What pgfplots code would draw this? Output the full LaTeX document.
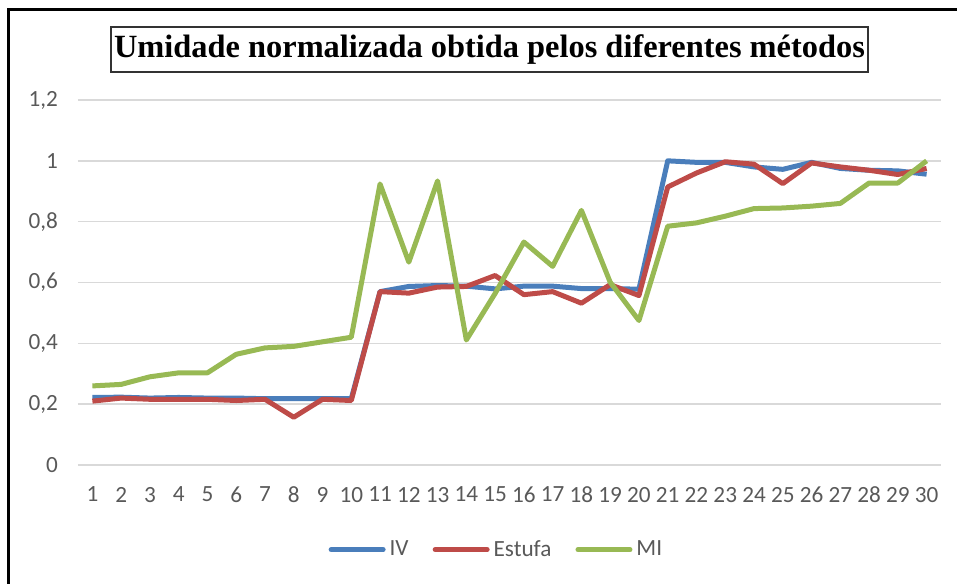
\documentclass[border=0pt]{standalone}
\usepackage{pgfplots}
\pgfplotsset{compat=1.18}
\usepackage{fontspec}
\setmainfont{Carlito}
\newfontfamily\titlefont{Liberation Serif}
\definecolor{ivc}{HTML}{4A7EBB}
\definecolor{esc}{HTML}{BE4B48}
\definecolor{mic}{HTML}{98B954}
\definecolor{txt}{HTML}{595959}
\definecolor{grd}{HTML}{D9D9D9}
\begin{document}
\begin{tikzpicture}[x=1pt,y=1pt]
\useasboundingbox (-39,-59) rectangle (439.5,232.5);
\draw[line width=1.5pt] (-34.5,-60) -- (-34.5,227.5) -- (440,227.5);
\begin{axis}[
  at={(0,0)}, anchor=south west, scale only axis,
  width=431.5pt, height=182.5pt,
  xmin=0.5, xmax=30.5, ymin=0, ymax=1.2,
  axis line style={draw=none},
  xtick={1,...,30},
  ytick={0,0.2,0.4,0.6,0.8,1,1.2},
  yticklabels={0,{0,2},{0,4},{0,6},{0,8},1,{1,2}},
  ymajorgrids,
  major grid style={grd, line width=0.75pt},
  major tick length=0pt,
  tick style={draw=none},
  /pgf/number format/assume math mode=true,
  ticklabel style={font=\fontsize{11.6}{14}\selectfont, text=txt},
  yticklabel style={xshift=-6.5pt},
  xticklabel style={yshift=-7.5pt},
  legend columns=3,
  legend style={draw=none, fill=none, at={(0.486,-0.232)}, anchor=center,
    font=\fontsize{11.6}{14}\selectfont, text=txt,
    /tikz/every even column/.append style={column sep=10pt}},
  legend image code/.code={\draw[#1, line cap=round] (0pt,0pt) -- (26pt,0pt);},
  every axis plot/.append style={line width=2.5pt, line join=round, no markers},
]
\addplot[ivc] coordinates {
(1,0.222)(2,0.223)(3,0.220)(4,0.222)(5,0.220)(6,0.220)(7,0.218)(8,0.218)(9,0.218)(10,0.218)
(11,0.570)(12,0.587)(13,0.590)(14,0.588)(15,0.579)(16,0.588)(17,0.588)(18,0.580)(19,0.580)(20,0.578)
(21,1.000)(22,0.995)(23,0.995)(24,0.980)(25,0.972)(26,0.995)(27,0.975)(28,0.969)(29,0.967)(30,0.956)};
\addlegendentry{IV}
\addplot[esc] coordinates {
(1,0.210)(2,0.220)(3,0.216)(4,0.216)(5,0.216)(6,0.212)(7,0.216)(8,0.157)(9,0.216)(10,0.212)
(11,0.570)(12,0.565)(13,0.585)(14,0.587)(15,0.623)(16,0.560)(17,0.570)(18,0.532)(19,0.593)(20,0.557)
(21,0.914)(22,0.960)(23,0.997)(24,0.989)(25,0.925)(26,0.993)(27,0.980)(28,0.969)(29,0.955)(30,0.975)};
\addlegendentry{Estufa}
\addplot[mic] coordinates {
(1,0.260)(2,0.265)(3,0.290)(4,0.303)(5,0.303)(6,0.364)(7,0.385)(8,0.390)(9,0.405)(10,0.420)
(11,0.924)(12,0.667)(13,0.934)(14,0.411)(15,0.564)(16,0.733)(17,0.653)(18,0.837)(19,0.601)(20,0.475)
(21,0.785)(22,0.796)(23,0.818)(24,0.843)(25,0.845)(26,0.851)(27,0.860)(28,0.927)(29,0.927)(30,1.000)};
\addlegendentry{MI}
\end{axis}
\node[draw=black!80, line width=0.7pt, minimum width=378.5pt, minimum height=22.5pt, inner sep=0pt,
  font=\titlefont\bfseries\fontsize{16.2}{19}\selectfont] at (205.75,207.75)
  {Umidade normalizada obtida pelos diferentes métodos};
\end{tikzpicture}
\end{document}
